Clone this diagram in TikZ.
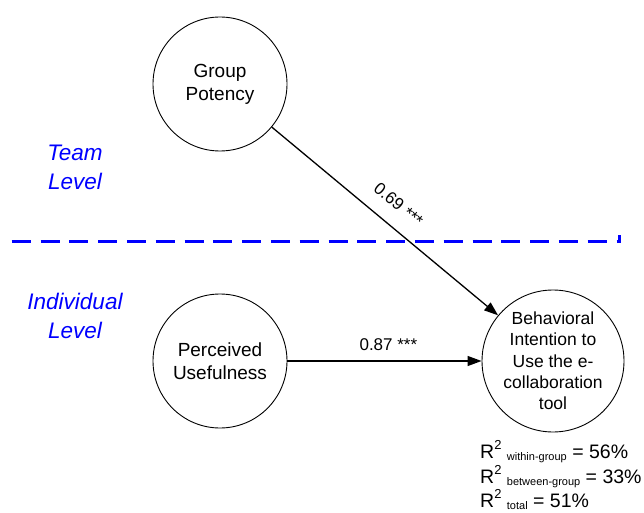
\documentclass[tikz,border=0pt]{standalone}
\usepackage{fontspec}
\setmainfont{Liberation Sans}
\usetikzlibrary{arrows.meta}
\newcommand\rsupx{\raisebox{0.42em}{\fontsize{13}{13}\selectfont 2}}
\newcommand\rsubx[1]{\raisebox{-0.12em}{\fontsize{11}{12}\selectfont #1}}
\tikzset{
  construct/.style={draw, circle, line width=0.9pt, inner sep=0pt, align=center},
  conn/.style={line width=1.3pt, -{Triangle[length=14pt,width=10pt]}},
  levellabel/.style={text=blue, align=center, font=\fontsize{22.5}{29}\selectfont\itshape},
  coef/.style={font=\fontsize{17}{20}\selectfont},
  rtext/.style={font=\fontsize{19.5}{24}\selectfont, inner sep=0pt, anchor=base west},
  levelline/.style={blue, line width=3pt, dash pattern=on 19pt off 9.8pt},
}
\begin{document}
\begin{tikzpicture}[x=1pt,y=-1pt]
\useasboundingbox (0,0) rectangle (644,513);
% constructs
\node[construct, minimum size=134pt, font=\fontsize{19}{23}\selectfont] (gp) at (220,84) {Group\\Potency};
\node[construct, minimum size=134pt, font=\fontsize{19}{23}\selectfont] (pu) at (220,361) {Perceived\\Usefulness};
\node[construct, minimum size=142pt, font=\fontsize{17.5}{21.3}\selectfont] (bi) at (553,361) {Behavioral\\Intention to\\Use the e-\\collaboration\\tool};
% level separator
\coordinate (dl) at (11.7,241);
\coordinate (dr) at (619,241);
\coordinate (dt) at (619,235);
\draw[levelline] (dl) -- (dr) -- (dt);
% level labels
\node[levellabel] (team) at (75,167.5) {Team\\Level};
\node[levellabel] (indiv) at (75,316) {Individual\\Level};
% paths
\draw[conn] (gp) -- (bi) node[coef, pos=0.5, sloped, above, outer sep=12pt] (c1) {0.69 ***};
\draw[conn] (pu) -- (bi) node[coef, pos=0.52, above, outer sep=7pt] (c2) {0.87 ***};
% R squared
\node[rtext] (r1) at (480,458) {R\rsupx\ \rsubx{within-group} = 56\%};
\node[rtext] (r2) at (480,483) {R\rsupx\ \rsubx{between-group} = 33\%};
\node[rtext] (r3) at (480,507) {R\rsupx\ \rsubx{total} = 51\%};
\end{tikzpicture}
\end{document}
